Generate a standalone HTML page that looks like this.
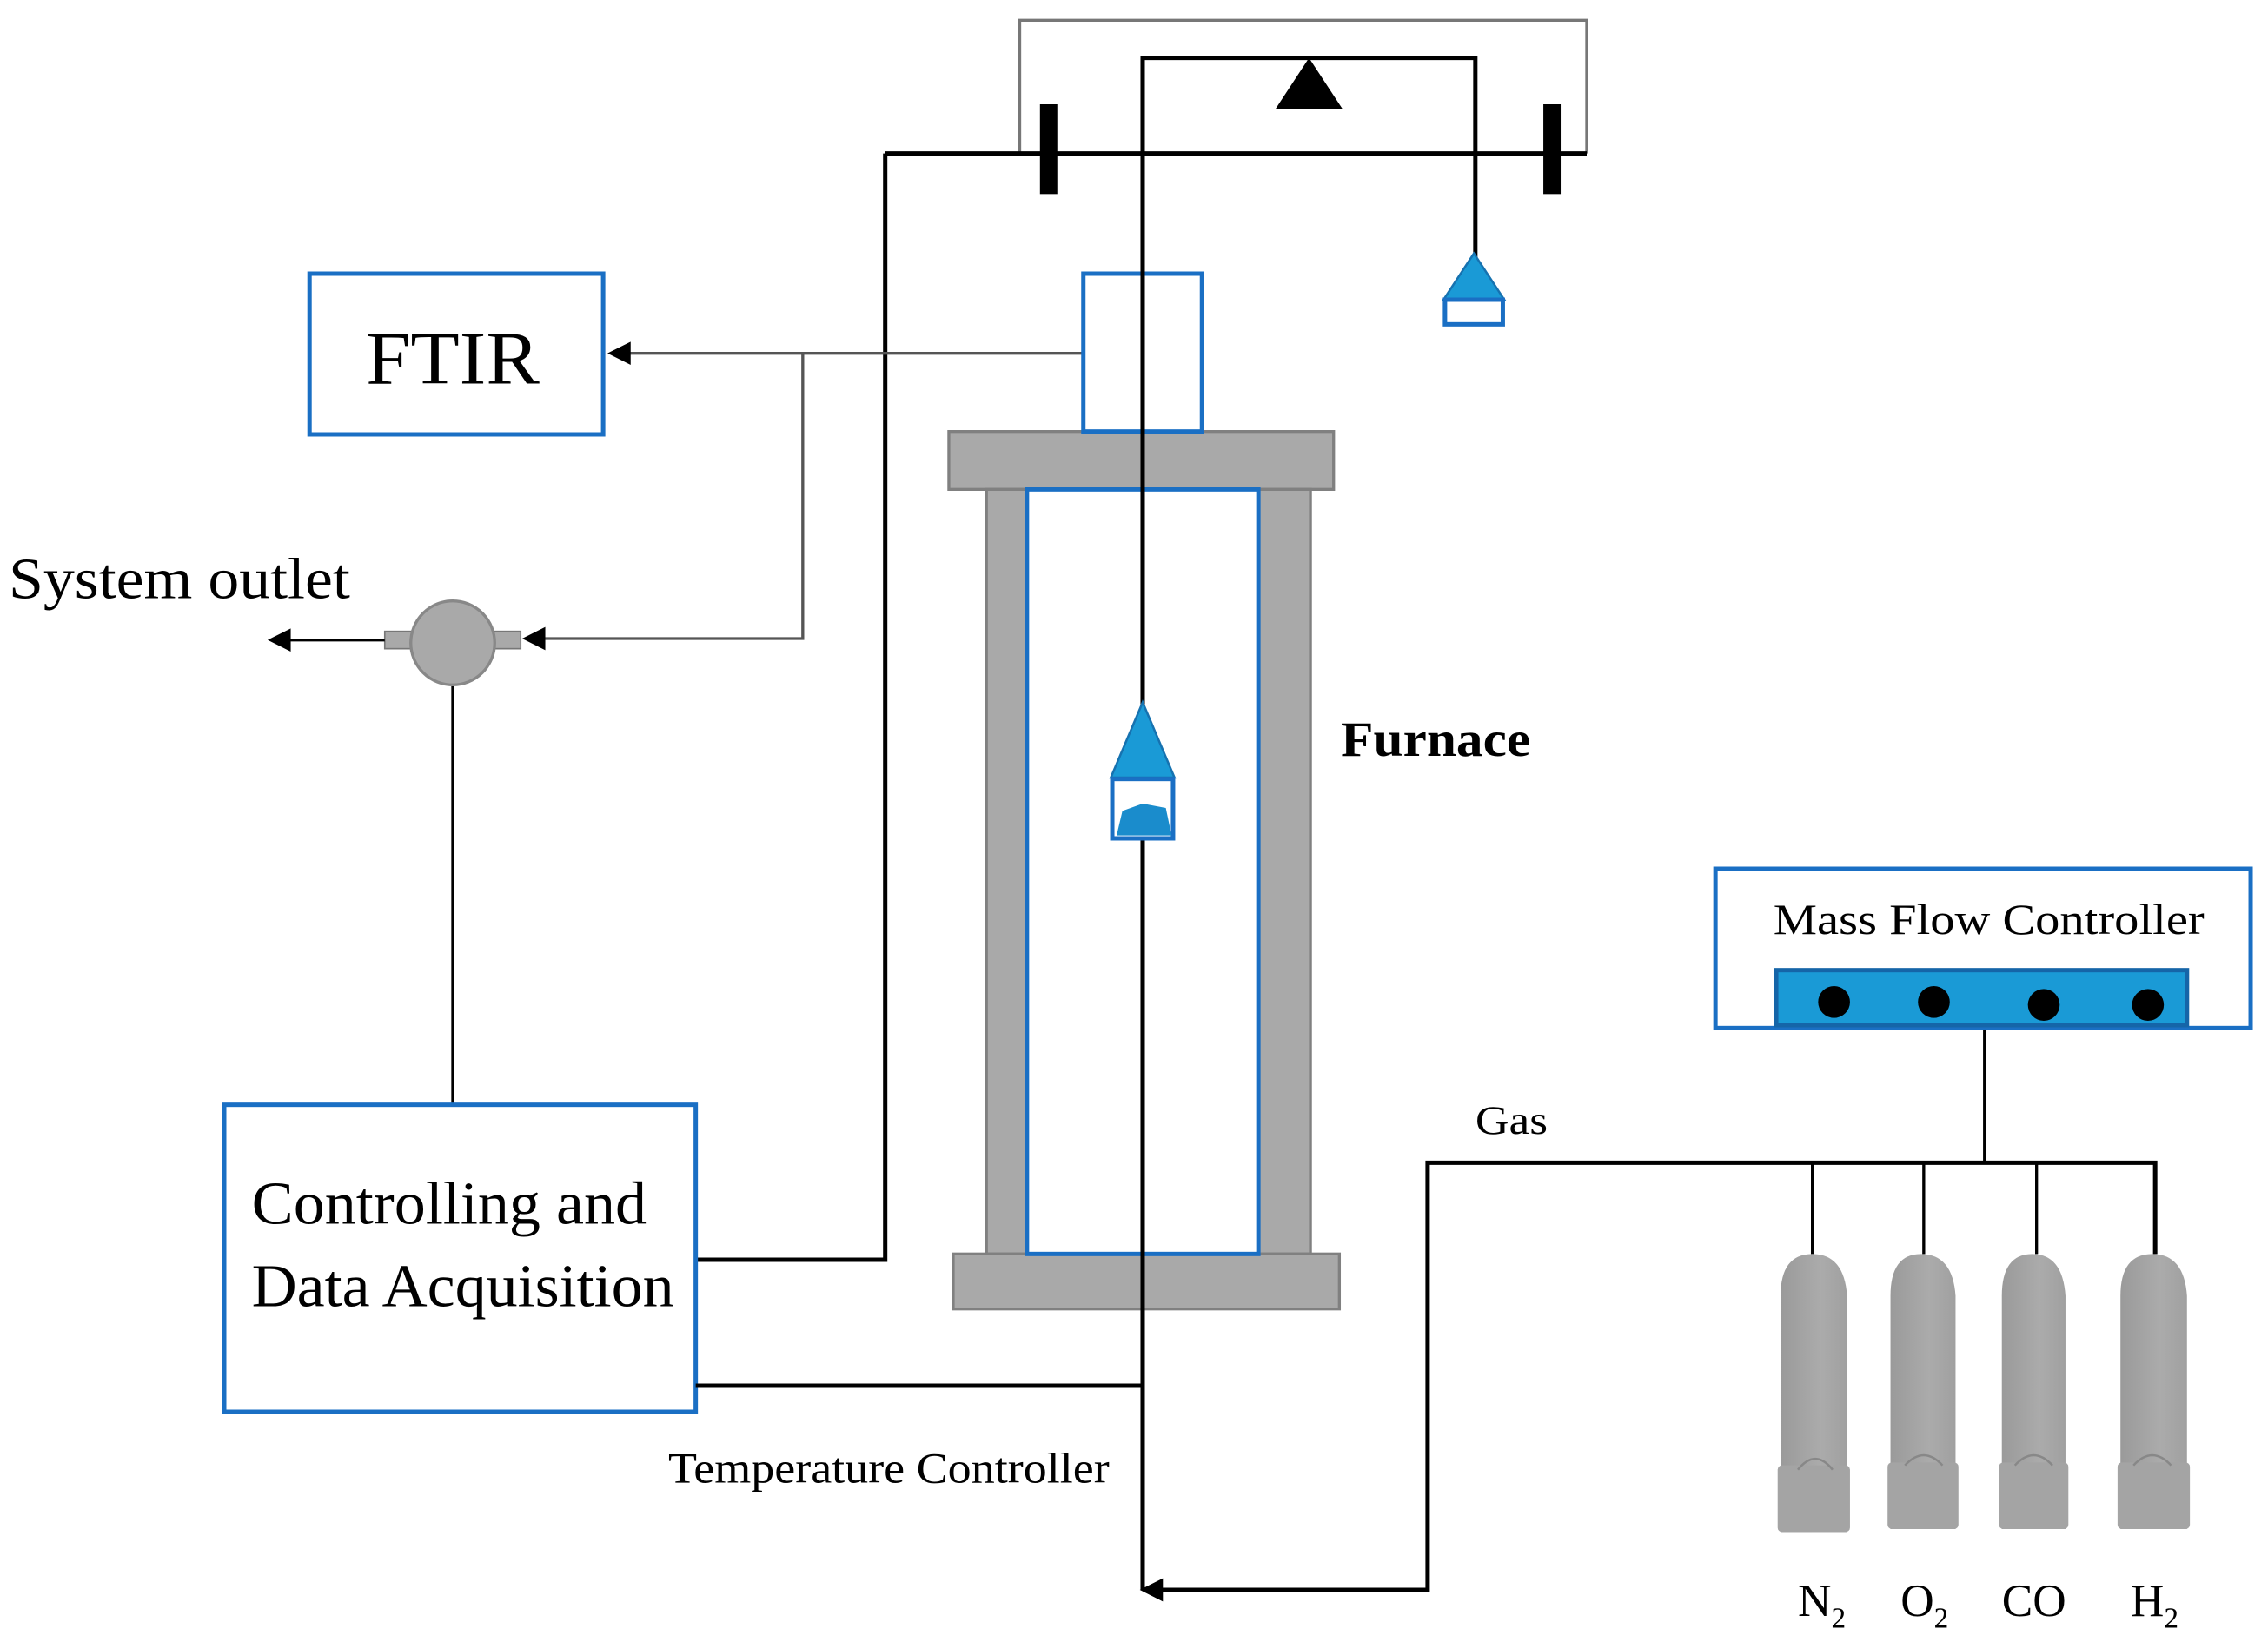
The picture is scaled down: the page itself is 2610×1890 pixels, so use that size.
<!DOCTYPE html>
<html><head><style>html,body{margin:0;padding:0;background:#fff}svg{display:block}</style></head><body>
<svg width="2610" height="1890" viewBox="0 0 1568 1134" preserveAspectRatio="none" xmlns="http://www.w3.org/2000/svg" font-family="Liberation Serif, serif">
<defs>
<linearGradient id="cg" x1="0" x2="1"><stop offset="0" stop-color="#9a9a9a"/><stop offset="0.6" stop-color="#ababab"/><stop offset="1" stop-color="#a0a0a0"/></linearGradient>
</defs>
<polyline points="705,106 705,14 1097,14 1097,106" fill="none" stroke="#777" stroke-width="2"/>
<line x1="612" y1="106" x2="1097" y2="106" stroke="#000" stroke-width="3"/>
<rect x="719" y="72" width="12" height="62" fill="#000"/>
<rect x="1067" y="72" width="12" height="62" fill="#000"/>
<polygon points="905,40 882,75 928,75" fill="#000"/>
<polyline points="790,1098 790,40 1020,40 1020,178" fill="none" stroke="#000" stroke-width="3"/>
<polygon points="1019,175 998,207 1040,207" fill="#1a9ad6" stroke="#1672b0" stroke-width="1.5"/>
<rect x="999" y="207" width="40" height="17" fill="#fff" stroke="#1a6fc4" stroke-width="3"/>
<polyline points="612,106 612,870 482,870" fill="none" stroke="#000" stroke-width="3"/>
<rect x="214" y="189" width="203" height="111" fill="#fff" stroke="#1a6fc4" stroke-width="3"/>
<text x="253" y="265" font-size="52" textLength="120" lengthAdjust="spacingAndGlyphs">FTIR</text>
<line x1="749" y1="244" x2="432" y2="244" stroke="#555" stroke-width="2"/>
<polygon points="420,244 436,236 436,252" fill="#000"/>
<polyline points="555,244 555,441 374,441" fill="none" stroke="#555" stroke-width="2"/>
<polygon points="361,441 377,433 377,449" fill="#000"/>
<line x1="313" y1="474" x2="313" y2="763" stroke="#000" stroke-width="2"/>
<rect x="266" y="436" width="26" height="12" fill="#a9a9a9" stroke="#777"/>
<rect x="336" y="436" width="24" height="12" fill="#a9a9a9" stroke="#777"/>
<circle cx="313" cy="444" r="29" fill="#a9a9a9" stroke="#888" stroke-width="2"/>
<line x1="266" y1="442" x2="198" y2="442" stroke="#000" stroke-width="2"/>
<polygon points="185,442 201,434 201,450" fill="#000"/>
<text x="6" y="413" font-size="40" textLength="236" lengthAdjust="spacingAndGlyphs">System outlet</text>
<rect x="656" y="298" width="266" height="40" fill="#a9a9a9" stroke="#808080" stroke-width="2"/>
<rect x="682" y="338" width="28" height="528" fill="#a9a9a9" stroke="#808080" stroke-width="2"/>
<rect x="870" y="338" width="36" height="528" fill="#a9a9a9" stroke="#808080" stroke-width="2"/>
<rect x="659" y="866" width="267" height="38" fill="#a9a9a9" stroke="#808080" stroke-width="2"/>
<rect x="710" y="338" width="160" height="528" fill="none" stroke="#1a6fc4" stroke-width="3"/>
<rect x="749" y="189" width="82" height="109" fill="none" stroke="#1a6fc4" stroke-width="3"/>
<line x1="790" y1="40" x2="790" y2="1098" stroke="#000" stroke-width="3"/>
<polygon points="790,485 768,537 812,537" fill="#1a9ad6" stroke="#1672b0" stroke-width="1.5"/>
<rect x="769" y="538" width="42" height="41" fill="#fff" stroke="#1a6fc4" stroke-width="3"/>
<path d="M772,577 L776,560 L790,555 L806,558 L810,577 Z" fill="#1a8ccc"/>
<text x="927" y="522" font-size="34" font-weight="bold" textLength="131" lengthAdjust="spacingAndGlyphs">Furnace</text>
<rect x="155" y="763" width="326" height="212" fill="#fff" stroke="#1a6fc4" stroke-width="3"/>
<text x="174" y="845" font-size="42" textLength="273" lengthAdjust="spacingAndGlyphs">Controlling and</text>
<text x="174" y="902" font-size="42" textLength="292" lengthAdjust="spacingAndGlyphs">Data Acquisition</text>
<line x1="481" y1="957" x2="790" y2="957" stroke="#000" stroke-width="3"/>
<text x="462" y="1024" font-size="30" textLength="305" lengthAdjust="spacingAndGlyphs">Temperature Controller</text>
<polyline points="802,1098 987,1098 987,803 1490,803 1490,866" fill="none" stroke="#000" stroke-width="3"/>
<polygon points="788,1098 804,1090 804,1106" fill="#000"/>
<line x1="1253" y1="803" x2="1253" y2="866" stroke="#000" stroke-width="2"/>
<line x1="1330" y1="803" x2="1330" y2="866" stroke="#000" stroke-width="2"/>
<line x1="1408" y1="803" x2="1408" y2="866" stroke="#000" stroke-width="2"/>
<line x1="1372" y1="710" x2="1372" y2="803" stroke="#000" stroke-width="2"/>
<text x="1020" y="783" font-size="28" textLength="50" lengthAdjust="spacingAndGlyphs">Gas</text>
<rect x="1186" y="600" width="370" height="110" fill="#fff" stroke="#1a6fc4" stroke-width="3"/>
<text x="1226" y="645" font-size="30" textLength="298" lengthAdjust="spacingAndGlyphs">Mass Flow Controller</text>
<rect x="1228" y="670" width="284" height="38" fill="#1a9ad6" stroke="#1565a8" stroke-width="3"/>
<circle cx="1268" cy="692" r="11" fill="#000"/>
<circle cx="1337" cy="692" r="11" fill="#000"/>
<circle cx="1413" cy="694" r="11" fill="#000"/>
<circle cx="1485" cy="694" r="11" fill="#000"/>
<g fill="url(#cg)">
<path d="M1231,1058 V895 Q1231,866 1253,866 Q1275,866 1277,895 V1058 Z"/>
<path d="M1307,1056 V895 Q1307,866 1328,866 Q1350,866 1352,895 V1056 Z"/>
<path d="M1384,1056 V895 Q1384,866 1405,866 Q1426,866 1428,895 V1056 Z"/>
<path d="M1466,1056 V895 Q1466,866 1488,866 Q1510,866 1512,895 V1056 Z"/>
</g>
<g fill="#a4a4a4">
<rect x="1229" y="1012" width="50" height="46" rx="3"/><rect x="1305" y="1010" width="49" height="46" rx="3"/><rect x="1382" y="1010" width="48" height="46" rx="3"/><rect x="1464" y="1010" width="50" height="46" rx="3"/>
</g>
<g fill="none" stroke="#888" stroke-width="1.5">
<path d="M1243,1015 Q1255,1000 1267,1015"/><path d="M1317,1012 Q1330,998 1343,1012"/><path d="M1393,1012 Q1406,998 1419,1012"/><path d="M1475,1012 Q1488,998 1501,1012"/>
</g>
<text x="1243" y="1116" font-size="32">N<tspan font-size="20" dy="8">2</tspan></text>
<text x="1314" y="1116" font-size="32">O<tspan font-size="20" dy="8">2</tspan></text>
<text x="1384" y="1116" font-size="32">CO</text>
<text x="1473" y="1116" font-size="32">H<tspan font-size="20" dy="8">2</tspan></text>
</svg>
</body></html>
